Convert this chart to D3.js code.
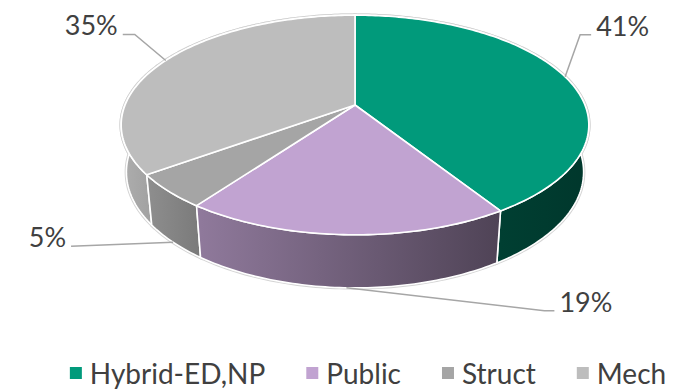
<!DOCTYPE html>
<html>
<head>
<meta charset="utf-8">
<script src="https://cdn.jsdelivr.net/npm/d3@7"></script>
<style>
  html, body { margin: 0; padding: 0; background: #fff; }
  svg { display: block; }
  text { font-family: Lato, "Open Sans", sans-serif; }
</style>
</head>
<body>
<svg id="chart" width="681" height="389"></svg>
<script>
// Share of work by discipline
const categories = ["Hybrid-ED,NP", "Public", "Struct", "Mech"];
const values = [41, 19, 5, 35];
const valueLabels = ["41%", "19%", "5%", "35%"];
const topColors = ["#019A7B", "#C1A3D1", "#A5A5A5", "#BDBDBD"];

const W = 681, H = 389;
const svg = d3.select("#chart");

// ---- perspective projection of a tilted cylinder (unit radius) ----
const cx = 355, cy = 105;          // screen position of the pie centre
const tilt = 27.5 * Math.PI / 180;   // camera elevation
const S = Math.sin(tilt), C = Math.cos(tilt);
const dist = 4.88;                   // camera distance (in radii)
const focal = 1122;                  // focal length in px
const depth = 0.233;                 // cylinder height (in radii)

function project(x, y, z) {
  const yv = y * C + z * S;
  const d = -y * S + z * C;
  const k = focal / (dist + d);
  return [cx + x * k, cy - yv * k];
}
// point on the rim at pie angle a (clockwise from the far side)
const rim = (a, y) => project(Math.sin(a), y, Math.cos(a));

const pie = d3.pie().sort(null).value(d => d)
  .startAngle(0).endAngle(2 * Math.PI);
const arcs = pie(values);

function samples(a0, a1) {
  const n = Math.max(2, Math.ceil((a1 - a0) / (Math.PI / 180)));
  return d3.range(n + 1).map(i => a0 + (a1 - a0) * i / n);
}

const line = d3.line();

function topPath(a) {
  const pts = [project(0, 0, 0)].concat(samples(a.startAngle, a.endAngle).map(t => rim(t, 0)));
  return line(pts) + "Z";
}
function wallPath(a) {
  const s = samples(a.startAngle, a.endAngle);
  const pts = s.map(t => rim(t, 0)).concat(s.slice().reverse().map(t => rim(t, -depth)));
  return line(pts) + "Z";
}

// ---- side shading: lighter on the left, darker on the right ----
const defs = svg.append("defs");
const xs = d3.range(0, 2 * Math.PI, 0.01).map(t => rim(t, 0)[0]);
const xMin = d3.min(xs), xMax = d3.max(xs);
const shade = [[0, 0.92], [0.17, 0.74], [0.81, 0.41], [1, 0.36]];
arcs.forEach((a, i) => {
  const base = d3.rgb(topColors[i]);
  const g = defs.append("linearGradient")
    .attr("id", "side" + i)
    .attr("gradientUnits", "userSpaceOnUse")
    .attr("x1", xMin).attr("x2", xMax).attr("y1", 0).attr("y2", 0);
  shade.forEach(([o, k]) => {
    g.append("stop").attr("offset", o)
      .attr("stop-color", d3.rgb(base.r * k, base.g * k, base.b * k).formatHex());
  });
});

// walls, back to front
const wallOrder = arcs.map((a, i) => ({ a, i }))
  .sort((p, q) => Math.cos((p.a.startAngle + p.a.endAngle) / 2) < Math.cos((q.a.startAngle + q.a.endAngle) / 2) ? 1 : -1);

const gPie = svg.append("g");
// faint outer edge
gPie.selectAll("path.halo-wall").data(wallOrder).join("path")
  .attr("class", "halo-wall")
  .attr("d", d => wallPath(d.a))
  .attr("fill", "none").attr("stroke", "#d4d4d4").attr("stroke-width", 3.5);
gPie.selectAll("path.halo-top").data(arcs).join("path")
  .attr("class", "halo-top")
  .attr("d", topPath)
  .attr("fill", "none").attr("stroke", "#d4d4d4").attr("stroke-width", 3.5);

gPie.selectAll("path.wall").data(wallOrder).join("path")
  .attr("class", "wall")
  .attr("d", d => wallPath(d.a))
  .attr("fill", d => `url(#side${d.i})`)
  .attr("stroke", "#fff").attr("stroke-width", 1.6).attr("stroke-linejoin", "round");

gPie.selectAll("path.top").data(arcs).join("path")
  .attr("class", "top")
  .attr("d", topPath)
  .attr("fill", (d, i) => topColors[i])
  .attr("stroke", "#fff").attr("stroke-width", 1.6).attr("stroke-linejoin", "round");

// ---- data labels with leader lines ----
// anchor: top rim for slices centred on the far half, bottom rim otherwise
// elbow / end of each leader are given relative to its anchor
const labelLayout = [
  { elbow: [15, -42], end: [26, -42], side: "right" },
  { elbow: [198, 23], end: [208, 23], side: "right" },
  { elbow: [-102, 4], end: [-102, 4], side: "left" },
  { elbow: [-31, -26], end: [-43, -26], side: "left" }
];
const gLab = svg.append("g");
arcs.forEach((a, i) => {
  const mid = (a.startAngle + a.endAngle) / 2;
  const anchor = Math.cos(mid) >= 0 ? rim(mid, 0) : rim(mid, -depth);
  const L = labelLayout[i];
  const elbow = [anchor[0] + L.elbow[0], anchor[1] + L.elbow[1]];
  const end = [anchor[0] + L.end[0], anchor[1] + L.end[1]];
  gLab.append("path")
    .attr("d", line([anchor, elbow, end]))
    .attr("fill", "none").attr("stroke", "#A6A6A6").attr("stroke-width", 1.5);
  gLab.append("text")
    .attr("x", L.side === "right" ? end[0] + 5 : end[0] - 5)
    .attr("y", end[1] + 1)
    .attr("text-anchor", L.side === "right" ? "start" : "end")
    .attr("font-size", 27)
    .attr("fill", "#404040")
    .text(valueLabels[i]);
});

// ---- legend ----
const legendY = 384, box = 12, boxGap = 8, itemGap = 41;
const gLeg = svg.append("g");
const items = gLeg.selectAll("g").data(categories).join("g");
items.append("rect")
  .attr("width", box).attr("height", box)
  .attr("y", legendY - 17)
  .attr("fill", (d, i) => topColors[i]);
items.append("text")
  .attr("x", box + boxGap).attr("y", legendY)
  .attr("font-size", 28).attr("fill", "#404040")
  .text(d => d);
const widths = [];
items.each(function () {
  widths.push(box + boxGap + d3.select(this).select("text").node().getComputedTextLength());
});
const total = d3.sum(widths) + itemGap * (widths.length - 1);
let xPos = 368 - total / 2;
items.attr("transform", (d, i) => {
  const t = `translate(${xPos},0)`;
  xPos += widths[i] + itemGap;
  return t;
});
</script>
</body>
</html>
